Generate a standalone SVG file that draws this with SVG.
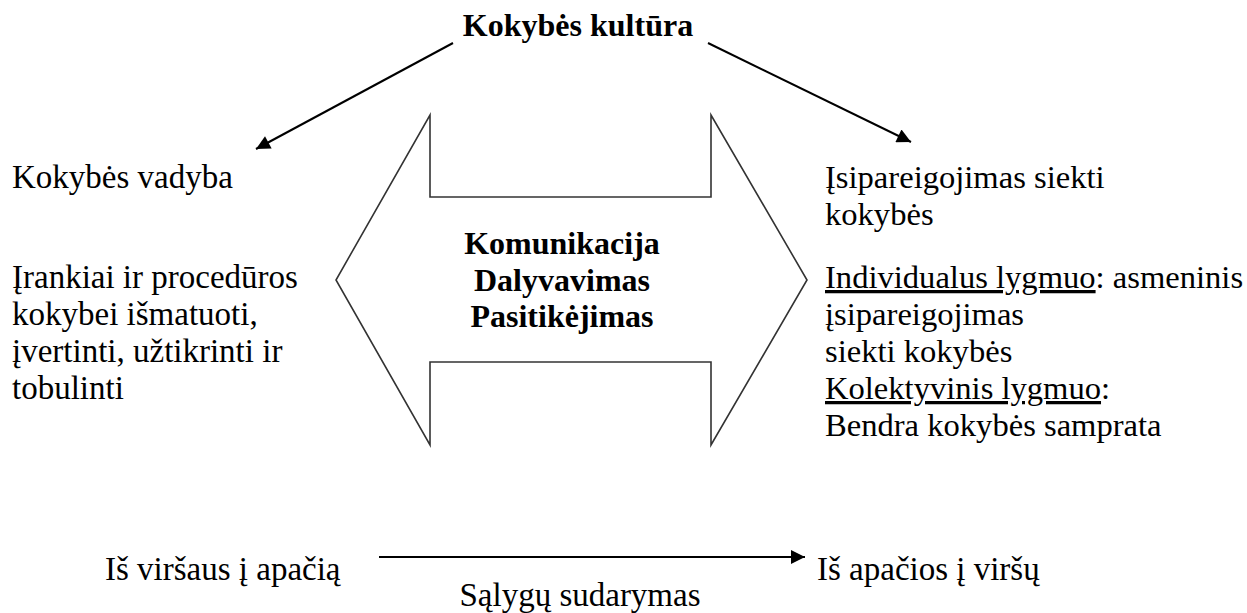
<svg xmlns="http://www.w3.org/2000/svg" width="1247" height="613" viewBox="0 0 1247 613">
<style>
text{font-family:"Liberation Serif","Times New Roman",serif;font-size:32px;fill:#000}
.l{font-size:33px}
.r{font-size:32.6px}
.b{font-weight:bold}
.c{text-anchor:middle}
.u{text-decoration:underline}
.ln{stroke:#000;stroke-width:2;fill:none}
.shape{fill:#fff;stroke:#333;stroke-width:1.6}
</style>
<defs>
<marker id="ah" viewBox="0 0 10 10" refX="10" refY="5" markerWidth="8.5" markerHeight="7" markerUnits="strokeWidth" orient="auto">
<path d="M0,0 L10,5 L0,10 Z" fill="#000"/>
</marker>
</defs>
<rect width="1247" height="613" fill="#fff"/>
<g id="center-arrow">
<polygon class="shape" points="430,115 430,197 711,197 711,115 807,280 711,445 711,362 430,362 430,445 336,280"/>
<text class="b c" x="562" y="254">Komunikacija</text>
<text class="b c" x="562" y="291">Dalyvavimas</text>
<text class="b c" x="562" y="327">Pasitikėjimas</text>
</g>
<g id="title"><text class="b c" x="578" y="36">Kokybės kultūra</text></g>
<g id="left">
<text class="l" x="12" y="188">Kokybės vadyba</text>
<text class="l" x="12" y="288">Įrankiai ir procedūros</text>
<text class="l" x="12" y="325">kokybei išmatuoti,</text>
<text class="l" x="12" y="362">įvertinti, užtikrinti ir</text>
<text class="l" x="12" y="399">tobulinti</text>
</g>
<g id="right">
<text class="r" x="825" y="188">Įsipareigojimas siekti</text>
<text class="r" x="825" y="225">kokybės</text>
<text class="r" x="825" y="288"><tspan class="u">Individualus lygmuo</tspan>: asmeninis</text>
<text class="r" x="825" y="325">įsipareigojimas</text>
<text class="r" x="825" y="362">siekti kokybės</text>
<text class="r" x="825" y="399"><tspan class="u">Kolektyvinis lygmuo</tspan>:</text>
<text class="r" x="825" y="436">Bendra kokybės samprata</text>
</g>
<g id="bottom-left"><text class="l" x="105" y="580">Iš viršaus į apačią</text></g>
<g id="bottom-right"><text class="l" x="817" y="580">Iš apačios į viršų</text></g>
<g id="bottom-label"><text class="l c" x="580" y="606">Sąlygų sudarymas</text></g>
<g id="connectors">
<line class="ln" x1="453" y1="43" x2="256" y2="149" marker-end="url(#ah)"/>
<line class="ln" x1="708" y1="43" x2="911" y2="142" marker-end="url(#ah)"/>
<line class="ln" x1="379" y1="557" x2="805" y2="557" marker-end="url(#ah)"/>
</g>
</svg>
